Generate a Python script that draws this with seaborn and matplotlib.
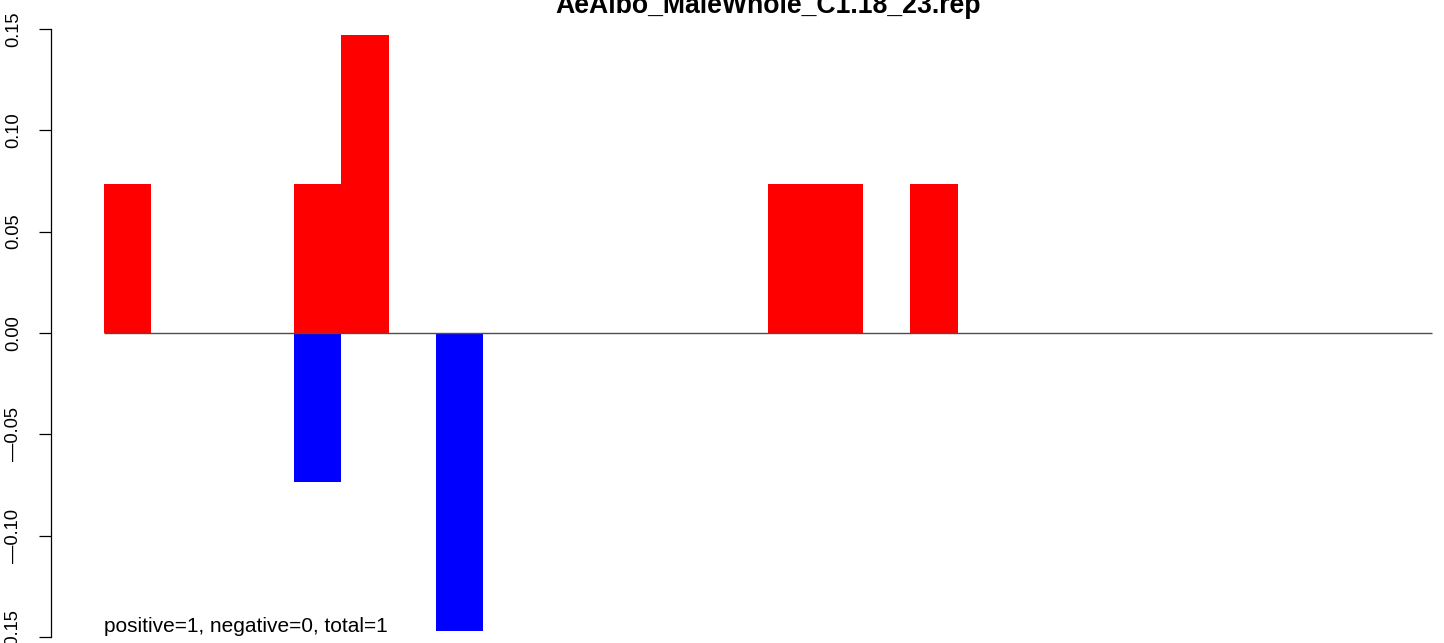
import matplotlib
matplotlib.use("Agg")
import matplotlib.pyplot as plt
import seaborn as sns
import numpy as np
import pandas as pd

# ---- data ----
title = "AeAlbo_MaleWhole_C1.18_23.rep"
bins = list(range(1, 29))
positive = [0.0735, 0, 0, 0, 0.0735, 0.147, 0, 0, 0, 0,
            0, 0, 0, 0, 0.0735, 0.0735, 0, 0.0735, 0, 0,
            0, 0, 0, 0, 0, 0, 0, 0]
negative = [0, 0, 0, 0, -0.0735, 0, 0, -0.147, 0, 0,
            0, 0, 0, 0, 0, 0, 0, 0, 0, 0,
            0, 0, 0, 0, 0, 0, 0, 0]
yticks = [-0.15, -0.10, -0.05, 0.00, 0.05, 0.10, 0.15]
ytick_labels = ["\u20140.15", "\u20140.10", "\u20140.05", "0.00", "0.05", "0.10", "0.15"]
note = "positive=1, negative=0, total=1"

sns.set_theme(style="white")
plt.rcParams['font.family'] = ['Liberation Sans', 'DejaVu Sans']
plt.rcParams['axes.unicode_minus'] = True

W, H, DPI = 1444, 643, 100
fig = plt.figure(figsize=(W / DPI, H / DPI), dpi=DPI)
ax = fig.add_axes([50.9 / W, 0, (1485 - 50.9) / W, 1])
ax.set_facecolor("white")

df = pd.DataFrame({"bin": bins, "pos": positive, "neg": negative})
sns.barplot(data=df, x="bin", y="pos", color="#ff0000", saturation=1,
            width=1, linewidth=0, ax=ax, errorbar=None)
sns.barplot(data=df, x="bin", y="neg", color="#0000ff", saturation=1,
            width=1, linewidth=0, ax=ax, errorbar=None)

n = len(bins)
ax.hlines(0, -0.5, n - 0.5, color="#4d4d4d", lw=1.0, zorder=5)

ax.set_xlim(-0.5 - 0.04 * n, n - 0.5 + 0.04 * n)
ax.set_ylim(-0.15296, 0.16431)

for s in ["top", "right", "bottom"]:
    ax.spines[s].set_visible(False)
ax.spines["left"].set_bounds(-0.15, 0.15)
ax.spines["left"].set_color("black")
ax.spines["left"].set_linewidth(0.9)

ax.set_xticks([])
ax.set_xlabel("")
ax.set_ylabel("")
ax.set_yticks(yticks)
ax.set_yticklabels(ytick_labels, rotation=90, va="center", fontsize=13.2)
ax.tick_params(axis="y", length=9, width=0.9, color="black", pad=11.5,
               left=True, labelcolor="black")

ax.text(0 - 0.5, -0.1475, note, ha="left", va="baseline", fontsize=15,
        color="black")

fig.text(768 / W, (H - 13) / H, title, ha="center", va="baseline",
         fontsize=19.2, fontweight="bold", color="black")

fig.savefig("out.png", dpi=DPI, facecolor="white")
